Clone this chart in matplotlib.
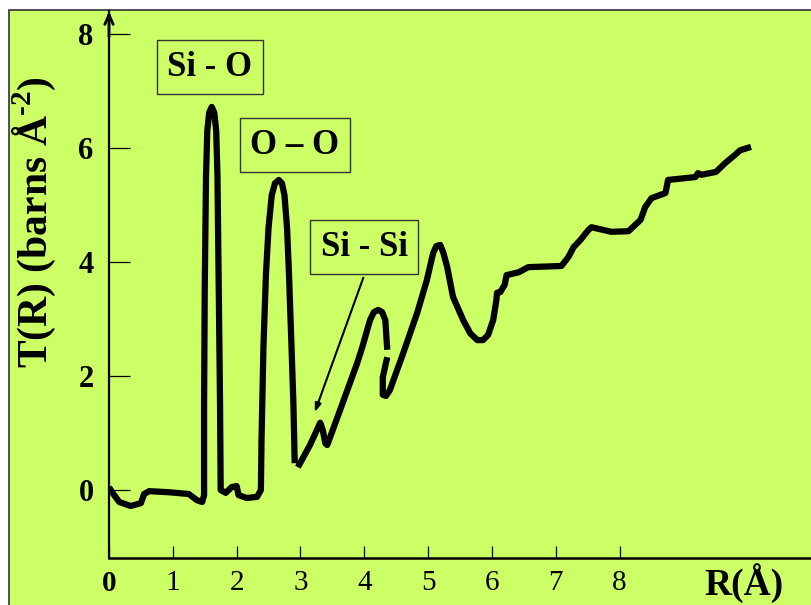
import numpy as np
import matplotlib
matplotlib.use('Agg')
from matplotlib import pyplot as plt
from matplotlib.patches import Rectangle

plt.rcParams['font.family'] = ['Liberation Serif', 'DejaVu Serif']
plt.rcParams['mathtext.fontset'] = 'custom'
plt.rcParams['mathtext.rm'] = 'Liberation Serif:bold'
plt.rcParams['mathtext.bf'] = 'Liberation Serif:bold'

# traced T(R) curve, NaN marks the small breaks of the hand-drawn line
r = [0.00, 0.05, 0.16, 0.34, 0.50, 0.55, 0.63, 0.95, 1.25, 1.38, 1.46, 1.49,
     1.49, 1.50, 1.52, 1.54, 1.57, 1.61, 1.65, 1.68, 1.70, 1.72, 1.74, 1.75,
     1.83, 1.92, 2.00, 2.03, 2.16, 2.32, 2.38,
     2.39, 2.42, 2.46, 2.50, 2.55, 2.60, 2.66, 2.71, 2.75, 2.79, 2.82, 2.86,
     2.89, 2.91, np.nan,
     2.96, 3.15, 3.31, 3.35, 3.39, 3.42, 3.62, 3.89, 3.97, 4.09, 4.15, 4.22,
     4.28, 4.33, 4.36, np.nan,
     4.36, 4.29, 4.29, 4.34, 4.40, 4.61, 4.83, 4.98, 5.08, 5.13, 5.19, 5.24,
     5.30, 5.39, 5.55, 5.66, 5.77, 5.86, 5.94, 6.02, 6.07, 6.08,
     6.13, 6.20, 6.23, 6.42, 6.57, 7.09, 7.20,
     7.28, 7.39, 7.51, 7.56, 7.87, 8.14, 8.33, 8.40, 8.50, 8.72, 8.76, 9.19,
     9.23, 9.28, 9.51, 9.66, 9.81, 9.89, 10.06]
t = [0.05, -0.04, -0.21, -0.28, -0.23, -0.07, -0.02, -0.04, -0.07, -0.18, -0.21, -0.09,
     1.50, 3.50, 5.50, 6.30, 6.62, 6.72, 6.62, 6.30, 5.50, 3.50, 1.50, 0.00,
     -0.05, 0.05, 0.07, -0.09, -0.14, -0.12, 0.00,
     0.88, 2.51, 3.80, 4.60, 5.17, 5.38, 5.44, 5.38, 5.17, 4.60, 3.80, 2.51,
     1.50, 0.47, np.nan,
     0.40, 0.79, 1.18, 1.05, 0.82, 0.79, 1.40, 2.23, 2.51, 2.98, 3.12, 3.16,
     3.12, 2.98, 2.46, np.nan,
     2.33, 1.98, 1.67, 1.65, 1.75, 2.40, 3.11, 3.68, 4.16, 4.28, 4.30, 4.16,
     3.91, 3.39, 2.98, 2.75, 2.63, 2.63, 2.72, 2.98, 3.33, 3.46,
     3.47, 3.60, 3.77, 3.82, 3.91, 3.93, 4.09,
     4.26, 4.39, 4.56, 4.61, 4.53, 4.54, 4.74, 4.96, 5.12, 5.21, 5.44, 5.49,
     5.56, 5.53, 5.58, 5.74, 5.88, 5.96, 6.02]

xticks = [0, 1, 2, 3, 4, 5, 6, 7, 8]
yticks = [0, 2, 4, 6, 8]

labels = ['Si - O', 'O \u2013 O', 'Si - Si']
label_pos = [(1.58, 7.42), (2.91, 6.05), (4.00, 4.26)]

fig = plt.figure(figsize=(8.11, 6.05), dpi=100, facecolor='white')
fig.patches.append(Rectangle((0.011, -0.01), 1.0, 0.9935, transform=fig.transFigure,
                             facecolor='#CCFF66', edgecolor='#333333', lw=1.2, zorder=-10))

ax = fig.add_axes([0.1344, 0.077, 0.8656, 0.9045])
ax.patch.set_alpha(0)
ax.set_xlim(0, 11.0)
ax.set_ylim(-1.2, 8.4)

ax.plot(r, t, color='black', lw=4.5, solid_capstyle='butt', solid_joinstyle='round')

for s in ['top', 'right']:
    ax.spines[s].set_visible(False)
ax.spines['left'].set_linewidth(1.6)
ax.spines['bottom'].set_linewidth(1.8)
ax.annotate('', xy=(0, 8.45), xytext=(0, 7.9), xycoords='data',
            arrowprops=dict(arrowstyle='->,head_length=0.7,head_width=0.3', lw=2, color='black'),
            annotation_clip=False)

ax.set_xticks(xticks)
ax.set_xticklabels([str(v) for v in xticks], fontsize=21)
ax.get_xticklabels()[0].set_fontweight('bold')
ax.set_yticks(yticks)
ax.set_yticklabels([str(v) for v in yticks], fontsize=22, fontweight='bold')
ax.tick_params(axis='x', direction='in', length=9, width=0.9, pad=8)
ax.tick_params(axis='y', direction='in', length=15, width=0.9, pad=11)

ax.set_ylabel('T(R) (barns Å$^{\\text{-2}}$)', fontsize=30, fontweight='bold')
ax.yaxis.set_label_coords(-0.072, 0.615)
ax.text(9.95, -1.63, 'R(Å)', fontsize=27, fontweight='bold', ha='center', va='center')

for txt, (x, y) in zip(labels, label_pos):
    ax.text(x, y, txt, fontsize=25, fontweight='bold', ha='center', va='center',
            bbox=dict(boxstyle='square,pad=0.3', facecolor='none', edgecolor='#333333', lw=1))

ax.annotate('', xy=(3.21, 1.32), xytext=(4.0, 3.77),
            arrowprops=dict(arrowstyle='-|>,head_length=0.5,head_width=0.18', lw=1.5, color='black'))

fig.savefig('out.png', dpi=100, facecolor='white')
